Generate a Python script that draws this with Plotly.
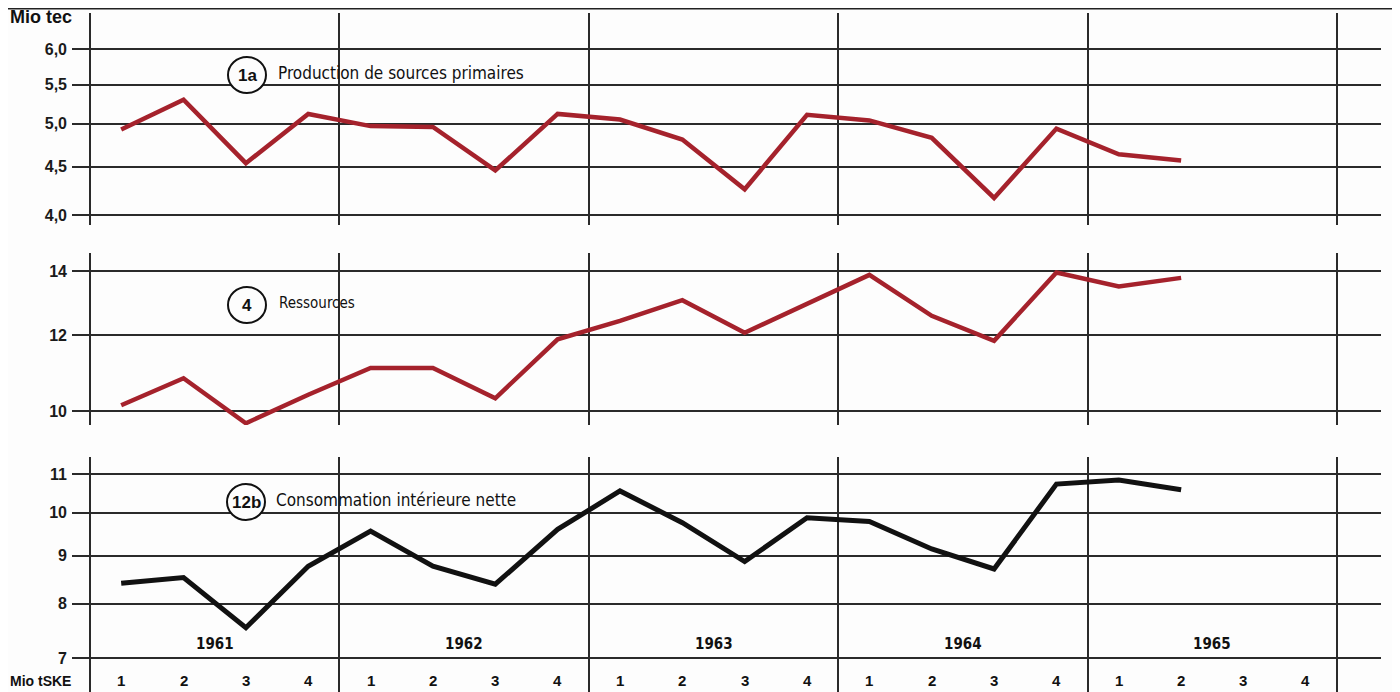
import plotly.graph_objects as go

# ---- data ----
years = ["1961", "1962", "1963", "1964", "1965"]
quarters = ["1", "2", "3", "4"]
production = [4.93, 5.30, 4.54, 5.12, 4.97, 4.96, 4.46, 5.12,
              5.05, 4.81, 4.26, 5.11, 5.04, 4.83, 4.17, 4.94,
              4.64, 4.57]
ressources = [10.14, 10.82, 9.71, 10.40, 11.09, 11.09, 10.31, 11.88,
              12.42, 13.05, 12.07, 12.95, 13.87, 12.57, 11.84, 13.95,
              13.49, 13.77]
consommation = [8.41, 8.53, 7.54, 8.77, 9.56, 8.77, 8.39, 9.60,
                10.55, 9.76, 8.87, 9.88, 9.79, 9.15, 8.71, 10.73,
                10.84, 10.58]
top_ticks = [4.0, 4.5, 5.0, 5.5, 6.0]
top_ticktext = ["4,0", "4,5", "5,0", "5,5", "6,0"]
mid_ticks = [10, 12, 14]
bot_ticks = [7, 8, 9, 10, 11]
titles = ["Production de sources primaires", "Ressources", "Consommation intérieure nette"]
badges = ["1a", "4", "12b"]

# page offset (body margin) compensation
OFF = 8
W, H = 1400 - OFF, 692 - OFF
L, R = 72 - OFF, 19
PW = W - L - R

def px(x):
    return (x - OFF - L) / PW

def py(y):
    return 1 - (y - OFF) / H

q_idx = list(range(len(production)))
RED = "#A5222C"
GRID = "#2a2a2a"
BG = "#fdfdfd"
FONT = "Liberation Sans Narrow, DejaVu Sans Condensed, Arial Narrow, sans-serif"
BOLD = "Liberation Sans, Arial, sans-serif"

fig = go.Figure()
fig.add_trace(go.Scatter(x=q_idx, y=production, mode="lines",
                         line=dict(color=RED, width=4.5), xaxis="x", yaxis="y",
                         showlegend=False))
fig.add_trace(go.Scatter(x=q_idx, y=ressources, mode="lines",
                         line=dict(color=RED, width=4.5), xaxis="x2", yaxis="y2",
                         showlegend=False))
fig.add_trace(go.Scatter(x=q_idx, y=consommation, mode="lines",
                         line=dict(color="#111111", width=5), xaxis="x3", yaxis="y3",
                         showlegend=False))

xr = [-0.5 - 18 / 62.35, -0.5 + (1381 - 90) / 62.35]
xdiv = [-0.5 + 4 * i for i in range(6)]
xcommon = dict(range=xr, domain=[0, 1], tickvals=xdiv, showticklabels=False,
               showgrid=True, gridcolor=GRID, gridwidth=1.5, zeroline=False,
               showline=False, ticks="")
ytick_font = dict(family=BOLD, size=16, color="#1a1a1a", weight="bold")
ycommon = dict(type="log", showgrid=True, gridcolor=GRID, gridwidth=1.8,
               zeroline=False, showline=False, ticks="", tickfont=ytick_font,
               ticklabelstandoff=4)

layout = dict(
    width=W, height=H,
    margin=dict(l=L, r=R, t=0, b=0),
    paper_bgcolor=BG, plot_bgcolor=BG,
    showlegend=False,
    xaxis=dict(anchor="y", **xcommon),
    xaxis2=dict(anchor="y2", **xcommon),
    xaxis3=dict(anchor="y3", **xcommon),
    yaxis=dict(anchor="x", domain=[py(225), py(13)], range=[0.5915, 0.8163],
               tickvals=top_ticks, ticktext=top_ticktext, **ycommon),
    yaxis2=dict(anchor="x2", domain=[py(425), py(253)], range=[0.9854, 1.1649],
                tickvals=mid_ticks, ticktext=[str(v) for v in mid_ticks], **ycommon),
    yaxis3=dict(anchor="x3", domain=[0, py(457)], range=[0.8088, 1.0595],
                tickvals=bot_ticks, ticktext=[str(v) for v in bot_ticks], **ycommon),
)
fig.update_layout(**layout)

shapes = []
annotations = []

# top border line
shapes.append(dict(type="line", xref="paper", yref="paper",
                   x0=px(OFF), x1=px(1400), y0=1, y1=1,
                   line=dict(color="#222", width=3)))

# badges and titles
badge_pos = [(247, 75), (247, 305), (246, 502)]
title_x = [276, 277, 274]
title_sizes = [17, 15, 17]
for (bx, by), b, t, tx, ts in zip(badge_pos, badges, titles, title_x, title_sizes):
    shapes.append(dict(type="circle", xref="paper", yref="paper",
                       xsizemode="pixel", ysizemode="pixel",
                       xanchor=px(bx), yanchor=py(by),
                       x0=-19, x1=19, y0=-18, y1=18,
                       fillcolor=BG, line=dict(color="#111", width=2)))
    annotations.append(dict(xref="paper", yref="paper", x=px(bx), y=py(by),
                            text=b, showarrow=False, xanchor="center", yanchor="middle",
                            font=dict(family=BOLD, size=17, color="#111", weight="bold")))
    annotations.append(dict(xref="paper", yref="paper", x=px(tx), y=py(by - 2),
                            text=t, showarrow=False, xanchor="left", yanchor="middle",
                            font=dict(family=FONT, size=ts, color="#111")))

# units
annotations.append(dict(xref="paper", yref="paper", x=px(OFF), y=py(17),
                        text="Mio tec", showarrow=False, xanchor="left", yanchor="middle",
                        font=dict(family=BOLD, size=18, color="#111", weight="bold")))
annotations.append(dict(xref="paper", yref="paper", x=px(OFF), y=py(681),
                        text="Mio tSKE", showarrow=False, xanchor="left", yanchor="middle",
                        font=dict(family=BOLD, size=14, color="#111", weight="bold")))

# year labels
for i, yname in enumerate(years):
    annotations.append(dict(xref="x3", yref="paper", x=1.5 + 4 * i, y=py(644),
                            text=yname, showarrow=False, xanchor="center", yanchor="middle",
                            font=dict(family=FONT, size=15, color="#111", weight="bold")))
    for j, q in enumerate(quarters):
        annotations.append(dict(xref="x3", yref="paper", x=4 * i + j, y=py(680),
                                text=q, showarrow=False, xanchor="center", yanchor="middle",
                                font=dict(family=BOLD, size=15, color="#111", weight="bold")))

fig.update_layout(shapes=shapes, annotations=annotations)
fig.write_html("out.html")
